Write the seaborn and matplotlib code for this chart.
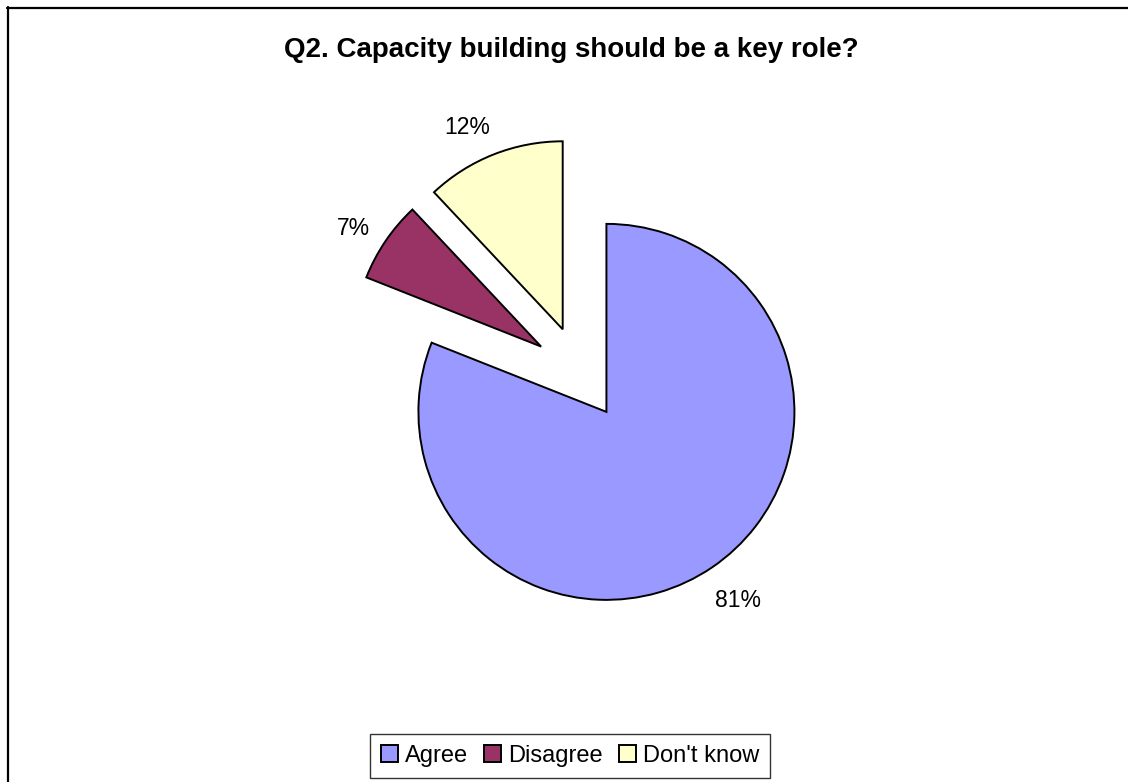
import matplotlib
matplotlib.use("Agg")
import matplotlib.pyplot as plt
from matplotlib.lines import Line2D
import seaborn as sns

categories = ["Agree", "Disagree", "Don't know"]
values = [81, 7, 12]
colors = ["#9999FF", "#993366", "#FFFFCC"]
title = "Q2. Capacity building should be a key role?"

sns.set_theme(style="white")
plt.rcParams["font.family"] = ["Liberation Sans", "DejaVu Sans"]
plt.rcParams["text.color"] = "black"

W, H = 1128, 782
fig = plt.figure(figsize=(W / 100, H / 100), dpi=100)
fig.patch.set_facecolor("white")

# axes spanning the whole canvas, one data unit per pixel (y upward)
ax = fig.add_axes([0, 0, 1, 1])

R = 188  # pie radius in pixels
wedges, texts, autotexts = ax.pie(
    values,
    colors=colors,
    startangle=90,
    counterclock=False,
    center=(580, H - 373),
    radius=R,
    explode=[47, 47, 47],  # offsets are in data units (pixels here)
    autopct="%1.0f%%",
    pctdistance=1.21,
    wedgeprops=dict(edgecolor="black", linewidth=1.4),
    textprops=dict(fontsize=16.5, color="black"),
    frame=True,
)
ax.set_xlim(0, W)
ax.set_ylim(0, H)
ax.set_aspect("equal")
ax.axis("off")

# small nudges for the two upper percentage labels
for t, (dx, dy) in zip(autotexts, [(4, 0), (0, -10), (-12, -10)]):
    x, y = t.get_position()
    t.set_position((x + dx, y + dy))

fig.text(571 / W, 1 - 50 / H, title, ha="center", va="center",
         fontsize=20, fontweight="bold", color="black")

leg = fig.legend(
    wedges, categories,
    loc="center", bbox_to_anchor=(570 / W, 1 - 756 / H),
    ncol=3, fontsize=17, frameon=True, fancybox=False,
    handlelength=0.7, handleheight=0.7, handletextpad=0.3,
    columnspacing=0.7, borderpad=0.45, borderaxespad=0,
    labelcolor="black",
)
leg.get_frame().set_edgecolor("black")
leg.get_frame().set_linewidth(1.0)

# chart frame (top and left edges)
fig.add_artist(Line2D([7 / W, 1], [1 - 7.5 / H, 1 - 7.5 / H],
                      transform=fig.transFigure, color="black", linewidth=1.6))
fig.add_artist(Line2D([7.5 / W, 7.5 / W], [0, 1 - 7 / H],
                      transform=fig.transFigure, color="black", linewidth=1.6))

fig.savefig("out.png", dpi=100, facecolor="white")
